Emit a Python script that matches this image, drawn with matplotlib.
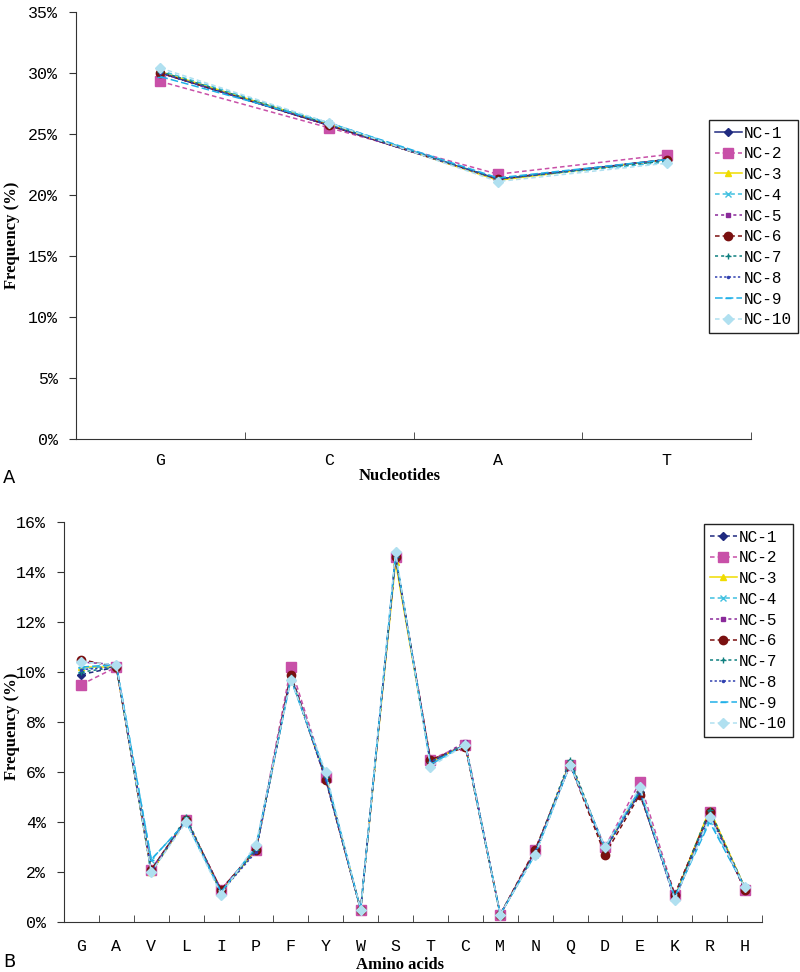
import matplotlib
matplotlib.use("Agg")
import matplotlib.pyplot as plt
from matplotlib.ticker import FixedLocator, FuncFormatter

nucleotides = ["G", "C", "A", "T"]
nc_labels = ["NC-1", "NC-2", "NC-3", "NC-4", "NC-5", "NC-6", "NC-7", "NC-8", "NC-9", "NC-10"]

# nucleotide frequency (%) per sample, order G, C, A, T
nuc_nc1 = [30.0, 25.7, 21.3, 22.9]
nuc_nc2 = [29.3, 25.5, 21.7, 23.3]
nuc_nc3 = [30.1, 25.8, 21.2, 22.9]
nuc_nc4 = [30.2, 25.9, 21.3, 22.7]
nuc_nc5 = [30.0, 25.7, 21.3, 22.9]
nuc_nc6 = [30.0, 25.7, 21.3, 22.9]
nuc_nc7 = [30.1, 25.8, 21.3, 22.8]
nuc_nc8 = [30.0, 25.7, 21.3, 22.9]
nuc_nc9 = [29.7, 25.9, 21.4, 22.9]
nuc_nc10 = [30.4, 25.9, 21.1, 22.6]

amino_acids = ["G", "A", "V", "L", "I", "P", "F", "Y", "W", "S",
               "T", "C", "M", "N", "Q", "D", "E", "K", "R", "H"]

# amino acid frequency (%) per sample
aa_nc1 = [9.9, 10.2, 2.0, 4.1, 1.2, 2.9, 9.9, 5.7, 0.5, 14.6, 6.4, 7.1, 0.3, 2.8, 6.3, 2.9, 5.2, 0.9, 4.3, 1.4]
aa_nc2 = [9.5, 10.2, 2.1, 4.1, 1.3, 2.9, 10.2, 5.8, 0.5, 14.6, 6.5, 7.1, 0.3, 2.9, 6.3, 3.0, 5.6, 1.1, 4.4, 1.3]
aa_nc3 = [10.2, 10.2, 2.0, 4.1, 1.2, 2.9, 9.8, 5.8, 0.5, 14.4, 6.4, 7.1, 0.3, 2.8, 6.4, 2.9, 5.3, 1.0, 4.5, 1.4]
aa_nc4 = [10.1, 10.3, 2.5, 4.0, 1.2, 3.0, 9.8, 5.9, 0.5, 14.7, 6.3, 7.1, 0.3, 2.7, 6.3, 2.9, 5.3, 1.0, 4.1, 1.4]
aa_nc5 = [10.4, 10.3, 2.1, 4.1, 1.3, 2.9, 9.9, 5.8, 0.5, 14.6, 6.4, 7.2, 0.3, 2.8, 6.3, 2.9, 5.2, 1.0, 4.4, 1.3]
aa_nc6 = [10.5, 10.2, 2.1, 4.1, 1.3, 2.9, 9.9, 5.7, 0.5, 14.6, 6.5, 7.0, 0.3, 2.9, 6.3, 2.7, 5.1, 1.1, 4.4, 1.3]
aa_nc7 = [10.0, 10.2, 2.0, 4.2, 1.2, 2.9, 9.8, 5.8, 0.5, 14.6, 6.4, 7.1, 0.3, 2.8, 6.5, 2.9, 5.2, 1.0, 4.5, 1.4]
aa_nc8 = [10.1, 10.2, 2.0, 4.1, 1.2, 2.8, 9.8, 5.7, 0.5, 14.6, 6.4, 7.1, 0.3, 2.8, 6.4, 2.9, 5.2, 0.9, 4.3, 1.4]
aa_nc9 = [10.2, 10.3, 2.5, 4.0, 1.2, 3.0, 9.7, 5.9, 0.5, 14.7, 6.3, 7.1, 0.3, 2.7, 6.3, 3.0, 5.3, 1.0, 4.0, 1.4]
aa_nc10 = [10.4, 10.3, 2.0, 4.0, 1.1, 3.1, 9.7, 6.0, 0.5, 14.8, 6.2, 7.1, 0.3, 2.7, 6.3, 3.0, 5.4, 0.9, 4.2, 1.4]

nuc_series = [nuc_nc1, nuc_nc2, nuc_nc3, nuc_nc4, nuc_nc5, nuc_nc6, nuc_nc7, nuc_nc8, nuc_nc9, nuc_nc10]
aa_series = [aa_nc1, aa_nc2, aa_nc3, aa_nc4, aa_nc5, aa_nc6, aa_nc7, aa_nc8, aa_nc9, aa_nc10]

colors = ["#1f2a80", "#c850a8", "#f0dc00", "#40c0e0", "#8a2a9a",
          "#7a1010", "#108080", "#3040b0", "#20b0e8", "#b0e0f0"]
markers = ["D", "s", "^", "x", "s", "o", "+", ".", "_", "D"]
msizes = [4, 7, 5, 4, 3, 6, 5, 3, 5, 5]
styles_a = ["-", (0, (3, 2)), "-", (0, (3, 2)), (0, (2, 2)), (0, (3, 2)),
            (0, (2, 2)), (0, (1.5, 1.5)), (0, (5, 2)), (0, (3, 2))]
styles_b = [(0, (3, 2))] + styles_a[1:]

mono = "Liberation Mono"
serif = "Liberation Serif"

fig = plt.figure(figsize=(8, 9.72), dpi=100)


def draw_panel(ax, cats, series, styles, ymax, ystep, xpad):
    x = list(range(len(cats)))
    for vals, lab, c, m, ms, ls in zip(series, nc_labels, colors, markers, msizes, styles):
        ax.plot(x, vals, color=c, marker=m, markersize=ms, linestyle=ls,
                linewidth=1.1, label=lab, markeredgecolor=c)
    ax.set_xlim(-0.5, len(cats) - 0.5)
    ax.set_ylim(0, ymax)
    ax.spines["top"].set_visible(False)
    ax.spines["right"].set_visible(False)
    ax.spines["left"].set_color("#333333")
    ax.spines["bottom"].set_color("#333333")
    ax.xaxis.set_major_locator(FixedLocator(x))
    ax.set_xticklabels(cats, fontfamily=mono, fontsize=12)
    ax.xaxis.set_minor_locator(FixedLocator([i + 0.5 for i in x]))
    ax.tick_params(axis="x", which="major", length=0, pad=xpad)
    ax.tick_params(axis="x", which="minor", direction="in", length=5, color="#333333")
    ax.yaxis.set_major_locator(FixedLocator(list(range(0, ymax + 1, ystep))))
    ax.yaxis.set_major_formatter(FuncFormatter(lambda v, p: f"{int(v)}%"))
    ax.tick_params(axis="y", direction="out", length=5, color="#333333", pad=8)
    for t in ax.get_yticklabels():
        t.set_fontfamily(mono)
        t.set_fontsize(12)
    ax.legend(loc="upper left", bbox_to_anchor=legend_anchor[len(cats)], bbox_transform=fig.transFigure,
              borderaxespad=0, frameon=True, fancybox=False, edgecolor="#222222", framealpha=1,
              borderpad=0.35, labelspacing=0.36, handlelength=1.7, handletextpad=0.15,
              prop={"family": mono, "size": 11.5})


legend_anchor = {4: (709 / 800, 1 - 120 / 972), 20: (704 / 800, 1 - 524 / 972)}

ax_a = fig.add_axes([0.095, 0.5484, 0.844, 0.4393])
draw_panel(ax_a, nucleotides, nuc_series, styles_a, 35, 5, 10)
fig.text(0.015, 1 - 235 / 972, "Frequency (%)", rotation=90, ha="center", va="center",
         fontfamily=serif, fontweight="bold", fontsize=12)
fig.text(0.5, 1 - 476 / 972, "Nucleotides", ha="center", va="center",
         fontfamily=serif, fontweight="bold", fontsize=12)
fig.text(0.004, 1 - 478 / 972, "A", ha="left", va="center", fontsize=13)

ax_b = fig.add_axes([0.08, 0.0514, 0.8725, 0.4115])
draw_panel(ax_b, amino_acids, aa_series, styles_b, 16, 2, 12)
fig.text(0.015, 1 - 726 / 972, "Frequency (%)", rotation=90, ha="center", va="center",
         fontfamily=serif, fontweight="bold", fontsize=12)
fig.text(0.5, 1 - 965 / 972, "Amino acids", ha="center", va="center",
         fontfamily=serif, fontweight="bold", fontsize=12)
fig.text(0.004, 1 - 962 / 972, "B", ha="left", va="center", fontsize=13)

fig.savefig("out.png", dpi=100)
plt.close(fig)
